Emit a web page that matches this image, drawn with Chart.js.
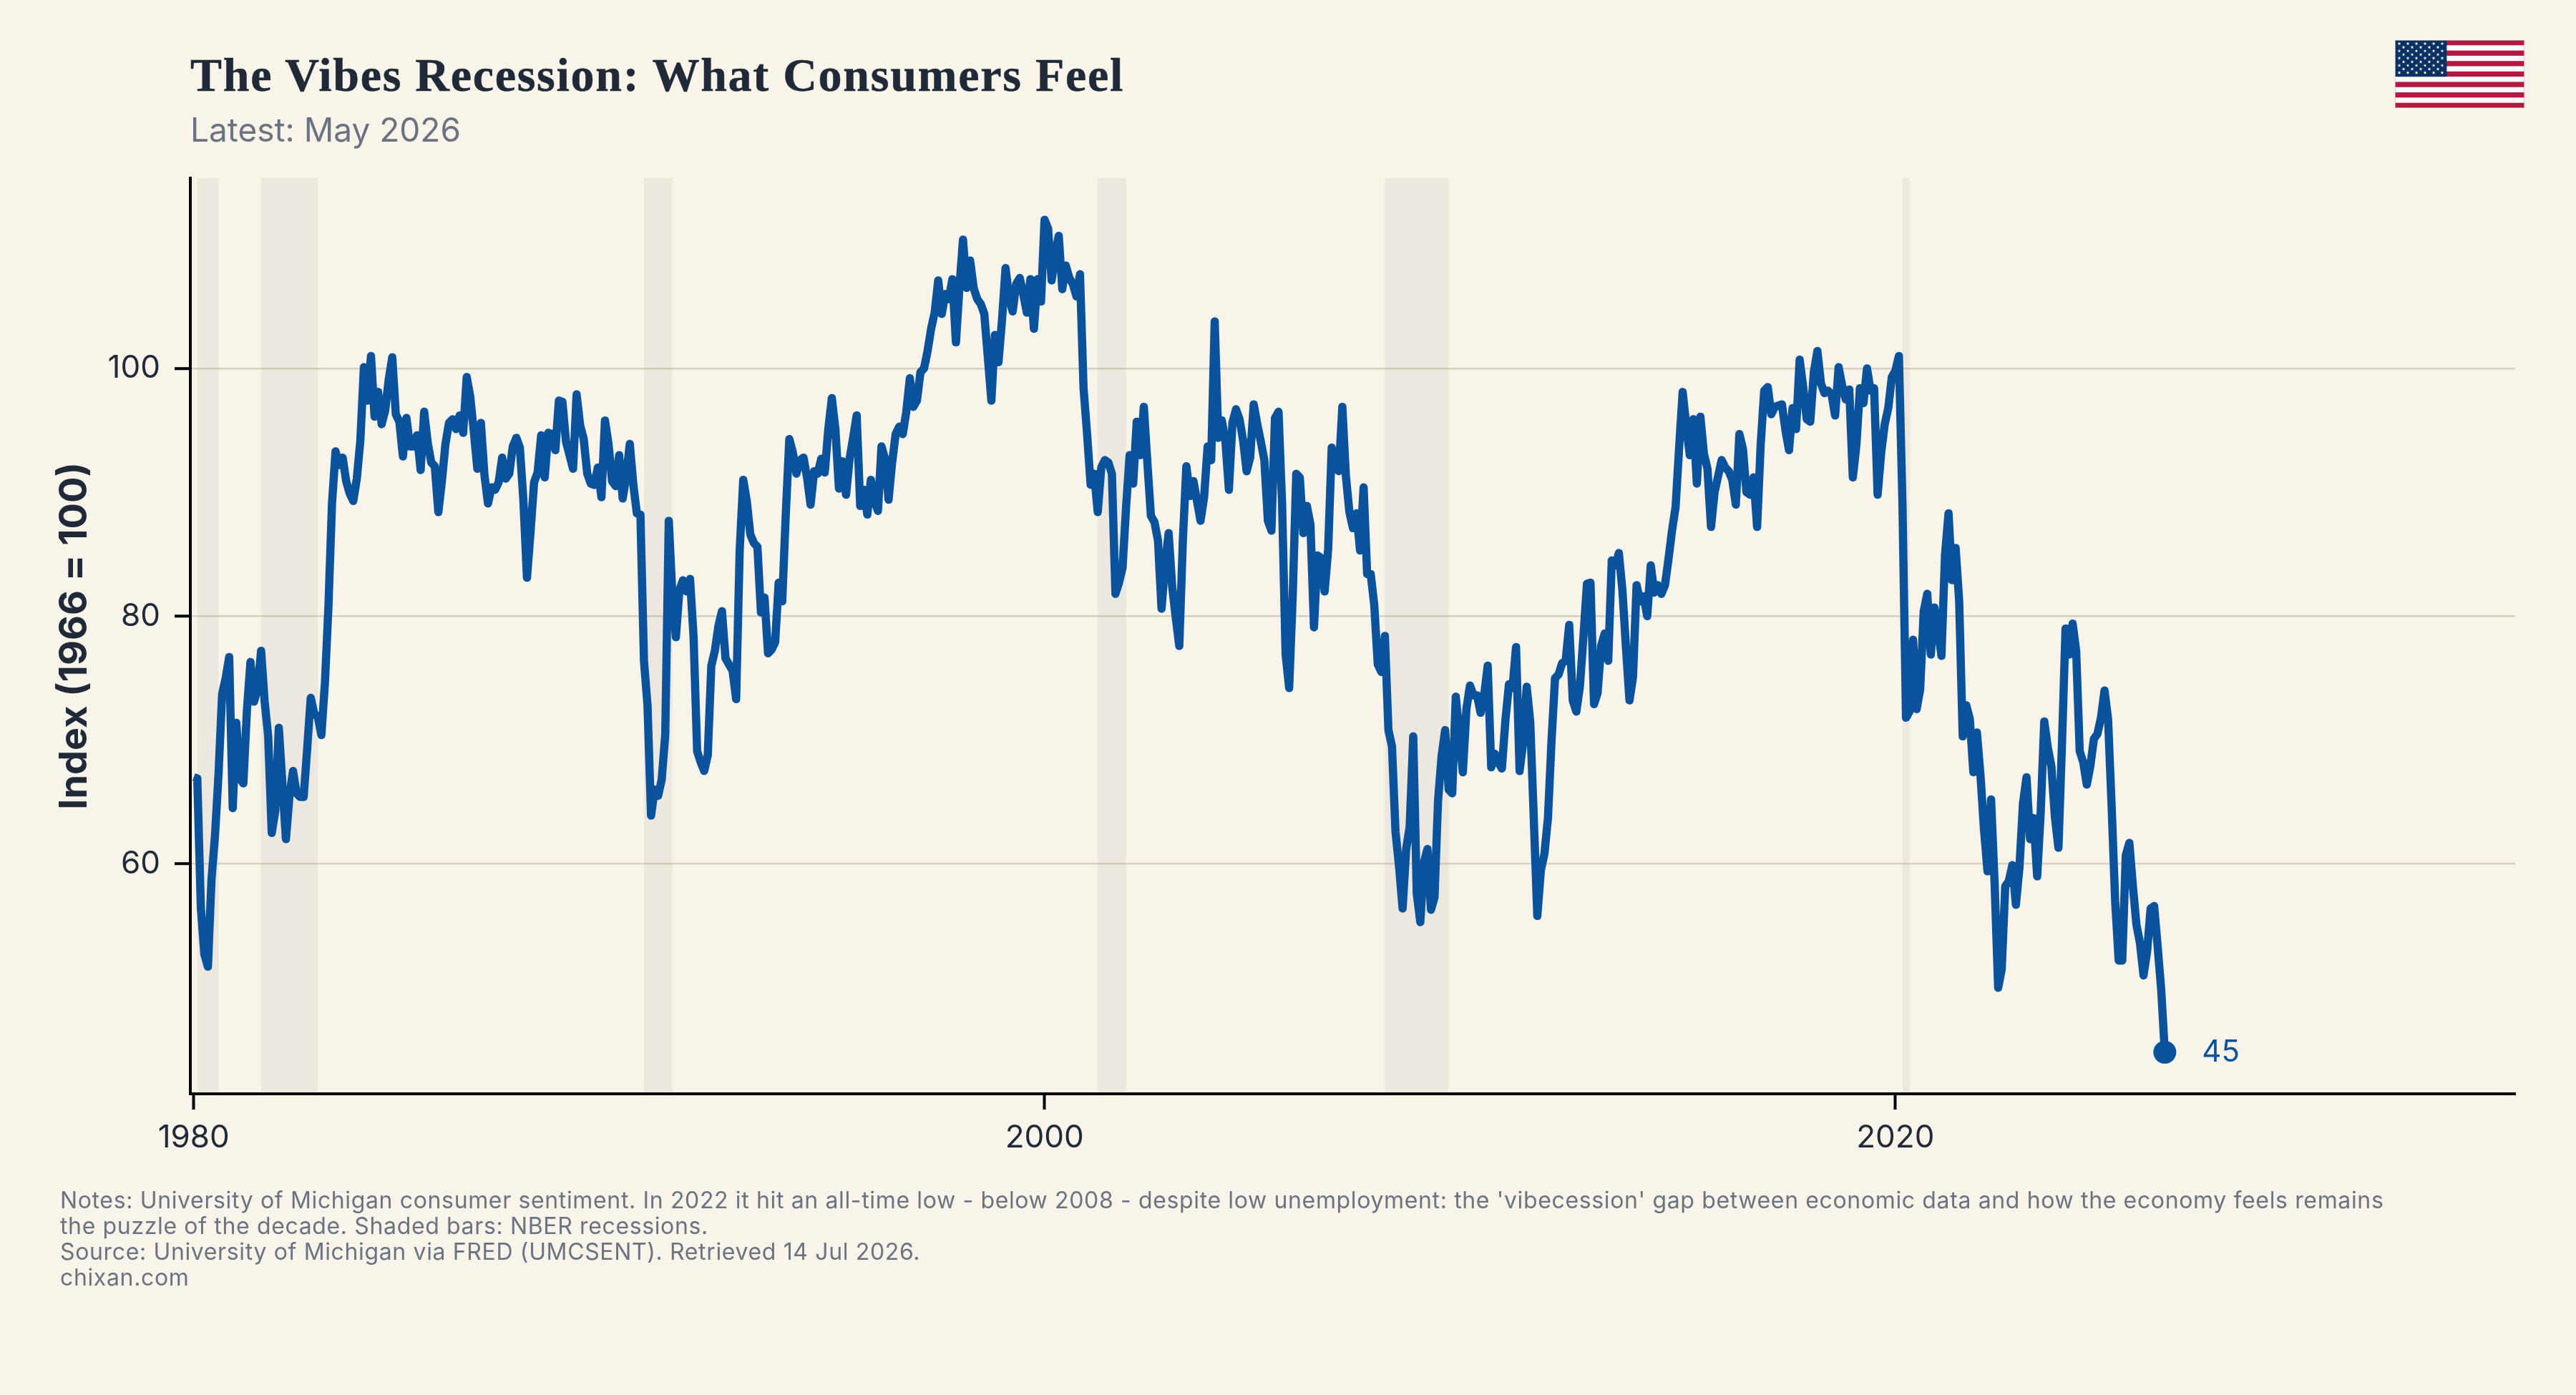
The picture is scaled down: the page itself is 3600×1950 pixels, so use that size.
<!DOCTYPE html>
<html>
<head>
<meta charset="utf-8">
<title>The Vibes Recession</title>
<script src="https://cdn.jsdelivr.net/npm/chart.js@4"></script>
<style>
  html, body { margin: 0; padding: 0; background: #f8f4ea; }
  #page { position: relative; width: 3600px; height: 1950px; overflow: hidden; background: #f8f4ea; }
  #page canvas#chart { position: absolute; left: 0; top: 0; }
  .txt { position: absolute; white-space: pre; line-height: 1; }
  #headline { left: 266px; top: 67px; font: 700 66px "Liberation Serif", serif; color: #1f2937; letter-spacing: 1.72px; -webkit-text-stroke: 0.5px #1f2937; }
  #subhead { left: 266px; top: 153px; font: 400 46px Inter, sans-serif; color: #6b7280; }
  .note { left: 84px; font: 400 32px Inter, sans-serif; color: #6b7280; letter-spacing: 0.64px; }
  #flag { position: absolute; left: 3347px; top: 56px; width: 181px; height: 95px; }
</style>
</head>
<body>
<div id="page">
  <canvas id="chart" width="3600" height="1950"></canvas>
  <div class="txt" id="headline">The Vibes Recession: What Consumers Feel</div>
  <div class="txt" id="subhead">Latest: May 2026</div>
  <div class="txt note" style="top:1658px">Notes: University of Michigan consumer sentiment. In 2022 it hit an all-time low - below 2008 - despite low unemployment: the 'vibecession' gap between economic data and how the economy feels remains</div>
  <div class="txt note" style="top:1694px">the puzzle of the decade. Shaded bars: NBER recessions.</div>
  <div class="txt note" style="top:1730px">Source: University of Michigan via FRED (UMCSENT). Retrieved 14 Jul 2026.</div>
  <div class="txt note" style="top:1766px">chixan.com</div>
  <svg id="flag" viewBox="0 0 181 95" xmlns="http://www.w3.org/2000/svg"></svg>
</div>
<script>
// University of Michigan consumer sentiment, monthly from January 1980
const firstYear = 1980;
const sentiment = [
  67.0, 66.9, 56.5, 52.7, 51.7, 58.7, 62.3, 67.3, 73.7, 75.0, 76.7, 64.5,
  71.4, 66.9, 66.5, 72.4, 76.3, 73.1, 74.1, 77.2, 73.1, 70.3, 62.5, 64.3,
  71.0, 66.5, 62.0, 65.5, 67.5, 65.7, 65.4, 65.4, 69.3, 73.4, 72.1, 71.9,
  70.4, 74.6, 80.8, 89.1, 93.3, 92.2, 92.8, 90.9, 89.9, 89.3, 91.1, 94.2,
  100.1, 97.4, 101.0, 96.1, 98.1, 95.5, 96.6, 99.1, 100.9, 96.3, 95.7, 92.9,
  96.0, 93.7, 93.7, 94.6, 91.8, 96.5, 94.0, 92.4, 92.1, 88.4, 90.9, 93.9,
  95.6, 95.9, 95.1, 96.2, 94.8, 99.3, 97.7, 94.9, 91.9, 95.6, 91.4, 89.1,
  90.4, 90.2, 90.8, 92.8, 91.1, 91.5, 93.7, 94.4, 93.6, 89.3, 83.1, 86.8,
  90.8, 91.6, 94.6, 91.2, 94.8, 94.7, 93.4, 97.4, 97.3, 94.1, 93.0, 91.9,
  97.9, 95.4, 94.3, 91.5, 90.7, 90.6, 92.0, 89.6, 95.8, 93.9, 90.9, 90.5,
  93.0, 89.5, 91.3, 93.9, 90.6, 88.3, 88.2, 76.4, 72.8, 63.9, 66.0, 65.5,
  66.8, 70.4, 87.7, 81.8, 78.3, 82.1, 82.9, 82.0, 83.0, 78.3, 69.1, 68.2,
  67.5, 68.8, 76.0, 77.2, 79.2, 80.4, 76.6, 76.1, 75.6, 73.3, 85.3, 91.0,
  89.3, 86.6, 85.9, 85.6, 80.3, 81.5, 77.0, 77.3, 77.9, 82.7, 81.2, 88.2,
  94.3, 93.2, 91.5, 92.6, 92.8, 91.2, 89.0, 91.7, 91.5, 92.7, 91.6, 95.1,
  97.6, 95.1, 90.3, 92.5, 89.8, 92.7, 94.4, 96.2, 88.9, 90.2, 88.2, 91.0,
  89.3, 88.5, 93.7, 92.7, 89.4, 92.4, 94.7, 95.3, 94.7, 96.5, 99.2, 96.9,
  97.4, 99.7, 100.0, 101.4, 103.2, 104.5, 107.1, 104.4, 106.0, 105.6, 107.2, 102.1,
  106.6, 110.4, 106.5, 108.7, 106.5, 105.6, 105.2, 104.4, 100.9, 97.4, 102.7, 100.5,
  103.9, 108.1, 105.7, 104.6, 106.8, 107.3, 106.0, 104.5, 107.2, 103.2, 107.2, 105.4,
  112.0, 111.3, 107.1, 109.2, 110.7, 106.4, 108.3, 107.3, 106.8, 105.8, 107.6, 98.4,
  94.7, 90.6, 91.5, 88.4, 92.0, 92.6, 92.4, 91.5, 81.8, 82.7, 83.9, 88.8,
  93.0, 90.7, 95.7, 93.0, 96.9, 92.4, 88.1, 87.6, 86.1, 80.6, 84.2, 86.7,
  82.4, 79.9, 77.6, 86.0, 92.1, 89.7, 90.9, 89.3, 87.7, 89.6, 93.7, 92.6,
  103.8, 94.4, 95.8, 94.2, 90.2, 95.6, 96.7, 95.9, 94.2, 91.7, 92.8, 97.1,
  95.5, 94.1, 92.6, 87.7, 86.9, 96.0, 96.5, 89.1, 76.9, 74.2, 81.6, 91.5,
  91.2, 86.7, 88.9, 87.4, 79.1, 84.9, 84.7, 82.0, 85.4, 93.6, 92.1, 91.7,
  96.9, 91.3, 88.4, 87.1, 88.3, 85.3, 90.4, 83.4, 83.4, 80.9, 76.1, 75.5,
  78.4, 70.8, 69.5, 62.6, 59.8, 56.4, 61.2, 63.0, 70.3, 57.6, 55.3, 60.1,
  61.2, 56.3, 57.3, 65.1, 68.7, 70.8, 66.0, 65.7, 73.5, 70.6, 67.4, 72.5,
  74.4, 73.6, 73.6, 72.2, 73.6, 76.0, 67.8, 68.9, 68.2, 67.7, 71.6, 74.5,
  74.2, 77.5, 67.5, 69.8, 74.3, 71.5, 63.7, 55.8, 59.5, 60.8, 63.7, 69.9,
  75.0, 75.3, 76.2, 76.4, 79.3, 73.2, 72.3, 74.3, 78.3, 82.6, 82.7, 72.9,
  73.8, 77.6, 78.6, 76.4, 84.5, 84.1, 85.1, 82.1, 77.5, 73.2, 75.1, 82.5,
  81.2, 81.6, 80.0, 84.1, 81.9, 82.5, 81.8, 82.5, 84.6, 86.9, 88.8, 93.6,
  98.1, 95.4, 93.0, 95.9, 90.7, 96.1, 93.1, 91.9, 87.2, 90.0, 91.3, 92.6,
  92.0, 91.7, 91.0, 89.0, 94.7, 93.5, 90.0, 89.8, 91.2, 87.2, 93.8, 98.2,
  98.5, 96.3, 96.9, 97.0, 97.1, 95.0, 93.4, 96.8, 95.1, 100.7, 98.5, 95.9,
  95.7, 99.7, 101.4, 98.8, 98.0, 98.2, 97.9, 96.2, 100.1, 98.6, 97.5, 98.3,
  91.2, 93.8, 98.4, 97.2, 100.0, 98.2, 98.4, 89.8, 93.2, 95.5, 96.8, 99.3,
  99.8, 101.0, 89.1, 71.8, 72.3, 78.1, 72.5, 74.1, 80.4, 81.8, 76.9, 80.7,
  79.0, 76.8, 84.9, 88.3, 82.9, 85.5, 81.2, 70.3, 72.8, 71.7, 67.4, 70.6,
  67.2, 62.8, 59.4, 65.2, 58.4, 50.0, 51.5, 58.2, 58.6, 59.9, 56.7, 59.7,
  64.9, 67.0, 62.0, 63.7, 59.0, 64.2, 71.5, 69.4, 67.9, 63.8, 61.3, 69.7,
  79.0, 76.9, 79.4, 77.2, 69.1, 68.2, 66.4, 67.9, 70.1, 70.5, 71.8, 74.0,
  71.7, 64.7, 57.0, 52.2, 52.2, 60.7, 61.7, 58.2, 55.1, 53.6, 51.0, 52.9,
  56.4, 56.6, 53.3, 49.8, 44.8
];

// NBER recessions as decimal years
const recessionStarts = [1980.083, 1981.583, 1990.583, 2001.25, 2008.0, 2020.167];
const recessionEnds   = [1980.583, 1982.917, 1991.25, 2001.917, 2009.5, 2020.333];

const xTickYears = [1980, 2000, 2020];
const yTickValues = [60, 80, 100];
const yAxisTitle = 'Index (1966 = 100)';

const ink = '#1f2937';
const lineBlue = '#0a529b';
const gridColour = 'rgba(190, 180, 155, 0.55)';
const bandColour = 'rgba(118, 100, 120, 0.085)';

const points = sentiment.map((v, i) => ({ x: firstYear + i / 12, y: v }));
const lastIndex = points.length - 1;

// Shaded recession spans, laid under the line
const recessionBands = {
  id: 'recessionBands',
  beforeDatasetsDraw(chart) {
    const { ctx, chartArea, scales: { x } } = chart;
    ctx.save();
    ctx.fillStyle = bandColour;
    recessionStarts.forEach((start, i) => {
      const left = x.getPixelForValue(start);
      const right = x.getPixelForValue(recessionEnds[i]);
      ctx.fillRect(left, chartArea.top, right - left, chartArea.bottom - chartArea.top);
    });
    ctx.restore();
  }
};

// Value label beside the final observation
const endLabel = {
  id: 'endLabel',
  afterDatasetsDraw(chart) {
    const { ctx } = chart;
    const pt = chart.getDatasetMeta(0).data[lastIndex];
    ctx.save();
    ctx.font = '400 42px Inter, sans-serif';
    ctx.fillStyle = lineBlue;
    ctx.textBaseline = 'middle';
    ctx.fillText(String(Math.round(sentiment[lastIndex])), pt.x + 52, pt.y + 1);
    ctx.restore();
  }
};

// Slightly open tracking for every label drawn on the chart canvas
const canvasEl = document.getElementById('chart');
canvasEl.getContext('2d').letterSpacing = '1.5px';

new Chart(canvasEl, {
  type: 'line',
  data: {
    datasets: [{
      data: points,
      borderColor: lineBlue,
      backgroundColor: lineBlue,
      borderWidth: 11.5,
      borderJoinStyle: 'round',
      borderCapStyle: 'butt',
      tension: 0,
      clip: false,
      pointRadius: ctx => ctx.dataIndex === lastIndex ? 16 : 0,
      pointBackgroundColor: lineBlue,
      pointBorderWidth: 0
    }]
  },
  options: {
    responsive: false,
    animation: false,
    devicePixelRatio: 1,
    layout: { padding: { left: 0, right: 85, top: 249, bottom: 0 } },
    plugins: { legend: { display: false }, tooltip: { enabled: false } },
    scales: {
      x: {
        type: 'linear',
        min: 1979.92,
        max: 2034.57,
        afterFit: s => { s.height = 421; },
        afterBuildTicks: s => { s.ticks = xTickYears.map(value => ({ value })); },
        border: { display: true, color: '#000000', width: 4 },
        grid: { drawOnChartArea: false, drawTicks: true, tickLength: 22, tickColor: '#000000', tickWidth: 4 },
        ticks: {
          color: ink,
          font: { family: 'Inter', size: 44, weight: '400' },
          padding: 13,
          maxRotation: 0,
          autoSkip: false,
          callback: v => String(v)
        }
      },
      y: {
        type: 'linear',
        min: 41.44,
        max: 115.36,
        afterFit: s => { s.width = 266; },
        afterBuildTicks: s => { s.ticks = yTickValues.map(value => ({ value })); },
        border: { display: true, color: '#000000', width: 4 },
        grid: { drawOnChartArea: true, color: gridColour, lineWidth: 2.5, drawTicks: true, tickLength: 22, tickColor: '#000000', tickWidth: 4 },
        ticks: {
          color: ink,
          font: { family: 'Inter', size: 44, weight: '400' },
          padding: 20,
          callback: v => String(v)
        },
        title: {
          display: true,
          text: yAxisTitle,
          color: ink,
          font: { family: 'Inter', size: 54, weight: '700' },
          padding: { top: 72, bottom: 0 }
        }
      }
    }
  },
  plugins: [recessionBands, endLabel]
});

// Flag in the top right corner
(function drawFlag() {
  const NS = 'http://www.w3.org/2000/svg';
  const svg = document.getElementById('flag');
  const add = (name, attrs) => {
    const el = document.createElementNS(NS, name);
    Object.entries(attrs).forEach(([k, v]) => el.setAttribute(k, v));
    svg.appendChild(el);
  };
  const h = 95 / 13;
  add('rect', { x: 0, y: 0, width: 181, height: 95, fill: '#ffffff' });
  for (let i = 0; i < 13; i += 2) {
    add('rect', { x: 0, y: i * h, width: 181, height: h, fill: '#b31942' });
  }
  add('rect', { x: 0, y: 0, width: 72.4, height: 7 * h, fill: '#0a3161' });
  const star = (cx, cy, r) => {
    const pts = [];
    for (let k = 0; k < 10; k++) {
      const rad = k % 2 ? r * 0.382 : r;
      const a = -Math.PI / 2 + k * Math.PI / 5;
      pts.push((cx + rad * Math.cos(a)).toFixed(2) + ',' + (cy + rad * Math.sin(a)).toFixed(2));
    }
    add('polygon', { points: pts.join(' '), fill: '#ffffff' });
  };
  for (let row = 0; row < 9; row++) {
    const even = row % 2 === 0;
    const count = even ? 6 : 5;
    for (let c = 0; c < count; c++) {
      star((even ? 6 : 12) + c * 12, 5.1 + row * 5.07, 2.6);
    }
  }
  add('rect', { x: 0.5, y: 0.5, width: 180, height: 94, fill: 'none', stroke: 'rgba(200,190,180,0.7)', 'stroke-width': 1 });
})();
</script>
</body>
</html>
